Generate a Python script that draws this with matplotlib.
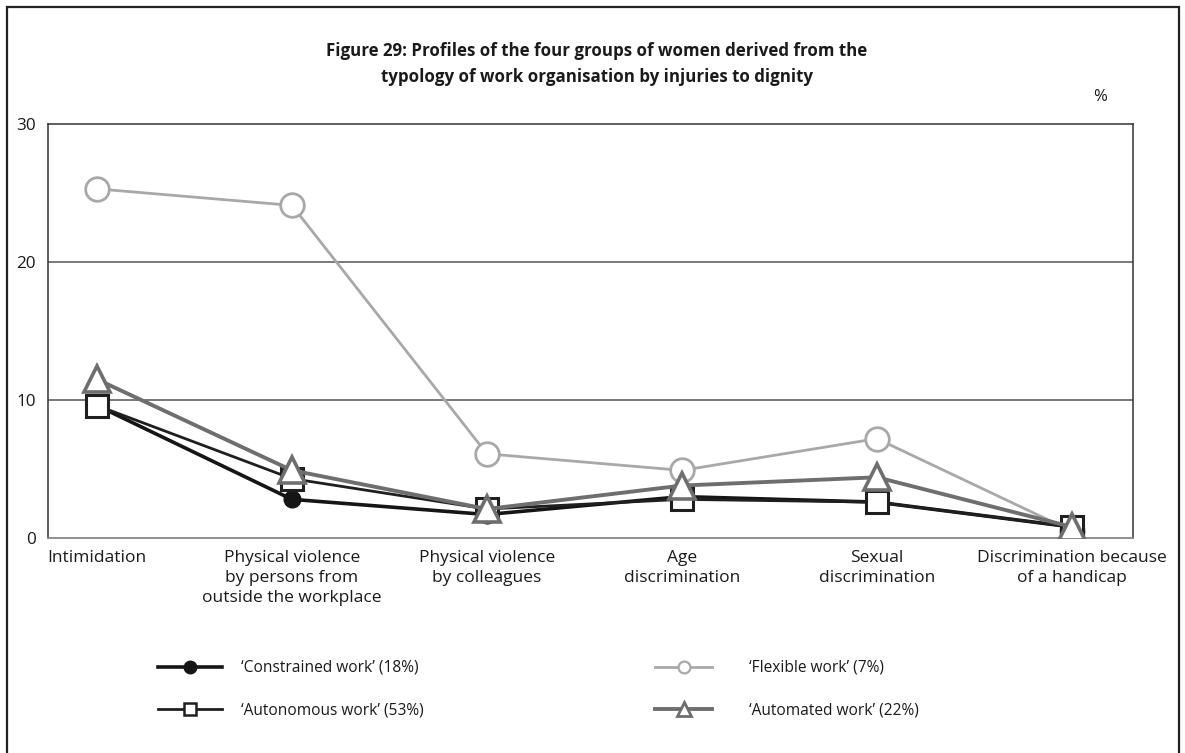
import matplotlib
matplotlib.use("Agg")
import matplotlib.pyplot as plt
from matplotlib.lines import Line2D
from matplotlib.patches import Rectangle

categories = [
    "Intimidation",
    "Physical violence\nby persons from\noutside the workplace",
    "Physical violence\nby colleagues",
    "Age\ndiscrimination",
    "Sexual\ndiscrimination",
    "Discrimination because\nof a handicap",
]
constrained = [9.6, 2.8, 1.7, 3.0, 2.6, 0.8]
flexible = [25.3, 24.1, 6.1, 4.9, 7.2, 0.5]
autonomous = [9.6, 4.3, 2.1, 2.8, 2.6, 0.8]
automated = [11.5, 4.9, 2.1, 3.8, 4.4, 0.8]
labels = ["\u2018Constrained work\u2019 (18%)", "\u2018Flexible work\u2019 (7%)",
          "\u2018Autonomous work\u2019 (53%)", "\u2018Automated work\u2019 (22%)"]
yticks = [0, 10, 20, 30]
title = ("Figure 29: Profiles of the four groups of women derived from the\n"
         "typology of work organisation by injuries to dignity")

FONT = ["Open Sans", "DejaVu Sans"]
plt.rcParams["font.family"] = FONT

W, H = 1185, 753
fig = plt.figure(figsize=(W / 100, H / 100), dpi=100)

def fx(px):
    return px / W

def fy(py):
    return 1 - py / H

ax = fig.add_axes([fx(48), fy(538), fx(1133) - fx(48), fy(124) - fy(538)])

x = list(range(len(categories)))
C_CON = "#151515"
C_FLEX = "#a8a8a8"
C_AUTO = "#1f1f1f"
C_AUTM = "#6e6e6e"

ax.plot(x, flexible, color=C_FLEX, lw=2, marker="o", ms=17, mfc="white",
        mec=C_FLEX, mew=2, zorder=3)
ax.plot(x, constrained, color=C_CON, lw=2.6, marker="o", ms=12, mfc=C_CON,
        mec=C_CON, zorder=4)
ax.plot(x, autonomous, color=C_AUTO, lw=2, marker="s", ms=16, mfc="white",
        mec=C_AUTO, mew=2.2, zorder=5)
ax.plot(x, automated, color=C_AUTM, lw=2.8, marker="^", ms=19, mfc="white",
        mec=C_AUTM, mew=2.6, zorder=6)

ax.set_xlim(-0.251, 5.313)
ax.set_ylim(0, 30)
ax.set_yticks(yticks)
ax.set_yticklabels([str(v) for v in yticks], fontsize=12.3, color="#1a1a1a")
ax.set_xticks(x)
ax.set_xticklabels(categories, fontsize=12.5, color="#1a1a1a", linespacing=1.3,
                   va="top")
ax.tick_params(axis="both", length=0)
ax.tick_params(axis="y", pad=9)
ax.tick_params(axis="x", pad=9)
for y in [10, 20]:
    ax.axhline(y, color="#555555", lw=1.1, zorder=1)
for s in ["left", "top", "right"]:
    ax.spines[s].set_color("#333333")
    ax.spines[s].set_linewidth(1.1)
ax.spines["bottom"].set_color("#888888")
ax.spines["bottom"].set_linewidth(1.3)

fig.text(fx(597), fy(64), title, ha="center", va="center", fontsize=12.2,
         fontweight="bold", family=["Liberation Sans Narrow", "Open Sans", "DejaVu Sans"],
         linespacing=1.55, color="#1a1a1a")
fig.text(fx(1100), fy(97), "%", ha="center", va="center", fontsize=12,
         color="#1a1a1a")

# outer frame
fig.patches.append(Rectangle((fx(7), -0.02), fx(1179) - fx(7), fy(7) + 0.02,
                             transform=fig.transFigure, fill=False,
                             ec="#222222", lw=1.6))

h_con = Line2D([], [], color=C_CON, lw=2.6, marker="o", ms=9, mfc=C_CON, mec=C_CON)
h_auto = Line2D([], [], color=C_AUTO, lw=2, marker="s", ms=9, mfc="white",
                mec=C_AUTO, mew=1.8)
h_flex = Line2D([], [], color=C_FLEX, lw=2, marker="o", ms=8.5, mfc="white",
                mec=C_FLEX, mew=1.6)
h_autm = Line2D([], [], color=C_AUTM, lw=2.8, marker="^", ms=9.5, mfc="white",
                mec=C_AUTM, mew=2)

LFS = 11.2
px = LFS * 100 / 72
common = dict(frameon=False, fontsize=LFS, labelspacing=1.68, borderpad=0,
              borderaxespad=0, loc="upper left")
leg1 = fig.legend([h_con, h_auto], [labels[0], labels[2]],
                  handlelength=64 / px, handletextpad=19 / px,
                  bbox_to_anchor=(fx(158), fy(660)), **common)
leg2 = fig.legend([h_flex, h_autm], [labels[1], labels[3]],
                  handlelength=57 / px, handletextpad=37 / px,
                  bbox_to_anchor=(fx(655), fy(660)), **common)
for lg in (leg1, leg2):
    for t in lg.get_texts():
        t.set_color("#1a1a1a")

fig.savefig("out.png", dpi=100)
